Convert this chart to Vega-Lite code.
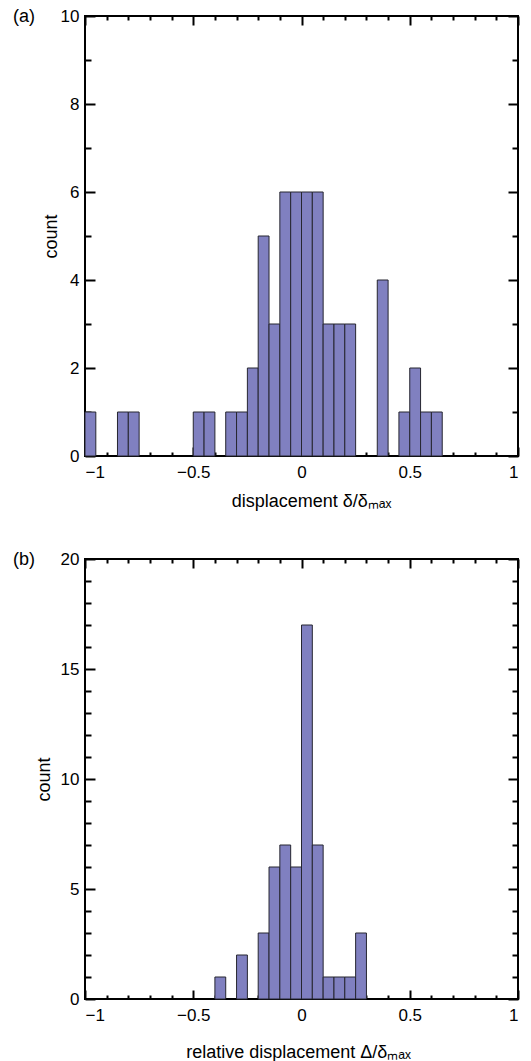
{
  "$schema": "https://vega.github.io/schema/vega-lite/v6.json",
  "background": "white",
  "padding": {"left": 12, "top": 6, "right": 5, "bottom": 0},
  "bounds": "flush",
  "spacing": 103,
  "config": {
    "view": {"stroke": "black", "strokeWidth": 2},
    "axis": {
      "labelFont": "Liberation Sans", "labelFontSize": 17, "labelColor": "black",
      "titleFont": "Liberation Sans", "titleFontSize": 18, "titleFontWeight": "normal", "titleColor": "black",
      "tickColor": "black", "tickWidth": 2, "domain": false, "grid": false
    },
    "title": {"font": "Liberation Sans", "fontSize": 18, "fontWeight": "normal", "color": "black"}
  },
  "datasets": {
    "a": [
      {"start": -1.0, "end": -0.95, "count": 1},
      {"start": -0.85, "end": -0.8, "count": 1},
      {"start": -0.8, "end": -0.75, "count": 1},
      {"start": -0.5, "end": -0.45, "count": 1},
      {"start": -0.45, "end": -0.4, "count": 1},
      {"start": -0.35, "end": -0.3, "count": 1},
      {"start": -0.3, "end": -0.25, "count": 1},
      {"start": -0.25, "end": -0.2, "count": 2},
      {"start": -0.2, "end": -0.15, "count": 5},
      {"start": -0.15, "end": -0.1, "count": 3},
      {"start": -0.1, "end": -0.05, "count": 6},
      {"start": -0.05, "end": 0.0, "count": 6},
      {"start": 0.0, "end": 0.05, "count": 6},
      {"start": 0.05, "end": 0.1, "count": 6},
      {"start": 0.1, "end": 0.15, "count": 3},
      {"start": 0.15, "end": 0.2, "count": 3},
      {"start": 0.2, "end": 0.25, "count": 3},
      {"start": 0.35, "end": 0.4, "count": 4},
      {"start": 0.45, "end": 0.5, "count": 1},
      {"start": 0.5, "end": 0.55, "count": 2},
      {"start": 0.55, "end": 0.6, "count": 1},
      {"start": 0.6, "end": 0.65, "count": 1}
    ],
    "b": [
      {"start": -0.4, "end": -0.35, "count": 1},
      {"start": -0.3, "end": -0.25, "count": 2},
      {"start": -0.2, "end": -0.15, "count": 3},
      {"start": -0.15, "end": -0.1, "count": 6},
      {"start": -0.1, "end": -0.05, "count": 7},
      {"start": -0.05, "end": 0.0, "count": 6},
      {"start": 0.0, "end": 0.05, "count": 17},
      {"start": 0.05, "end": 0.1, "count": 7},
      {"start": 0.1, "end": 0.15, "count": 1},
      {"start": 0.15, "end": 0.2, "count": 1},
      {"start": 0.2, "end": 0.25, "count": 1},
      {"start": 0.25, "end": 0.3, "count": 3}
    ]
  },
  "vconcat": [
    {
      "width": 433, "height": 440,
      "title": {"text": "(a)", "anchor": "start", "frame": "group", "dx": -72, "offset": -19},
      "data": {"name": "a"},
      "layer": [
        {
          "mark": {"type": "rect", "fill": "#8080c0", "stroke": "#262630", "strokeWidth": 1},
          "encoding": {
            "x": {"field": "start", "type": "quantitative", "scale": {"domain": [-1, 1], "nice": false, "zero": false},
                  "axis": {"orient": "bottom", "values": [-1, -0.5, 0, 0.5, 1], "format": "~g", "tickSize": -9, "labelPadding": 17, "titlePadding": 12, "titleX": 226, "title": "displacement δ/δₘₐₓ"}},
            "x2": {"field": "end"},
            "y": {"field": "count", "type": "quantitative", "scale": {"domain": [0, 10], "nice": false},
                  "axis": {"orient": "left", "values": [0, 2, 4, 6, 8, 10], "tickSize": -10, "labelPadding": 16, "titlePadding": 0, "title": "count"}},
            "y2": {"datum": 0}
          }
        },
        {
          "mark": {"type": "point", "opacity": 0},
          "encoding": {
            "x": {"field": "start", "type": "quantitative", "axis": {"orient": "bottom", "values": [-0.9, -0.8, -0.7, -0.6, -0.4, -0.3, -0.2, -0.1, 0.1, 0.2, 0.3, 0.4, 0.6, 0.7, 0.8, 0.9], "tickSize": -4, "labels": false, "title": null}},
            "y": {"field": "count", "type": "quantitative", "axis": {"orient": "left", "values": [1, 3, 5, 7, 9], "tickSize": -6, "labels": false, "title": null}}
          }
        },
        {
          "mark": {"type": "point", "opacity": 0},
          "encoding": {
            "x": {"field": "start", "type": "quantitative", "axis": {"orient": "top", "values": [-1, -0.5, 0, 0.5, 1], "tickSize": -9, "labels": false, "title": null}},
            "y": {"field": "count", "type": "quantitative", "axis": {"orient": "right", "values": [0, 2, 4, 6, 8, 10], "tickSize": -10, "labels": false, "title": null}}
          }
        },
        {
          "mark": {"type": "point", "opacity": 0},
          "encoding": {
            "x": {"field": "start", "type": "quantitative", "axis": {"orient": "top", "values": [-0.9, -0.8, -0.7, -0.6, -0.4, -0.3, -0.2, -0.1, 0.1, 0.2, 0.3, 0.4, 0.6, 0.7, 0.8, 0.9], "tickSize": -4, "labels": false, "title": null}},
            "y": {"field": "count", "type": "quantitative", "axis": {"orient": "right", "values": [1, 3, 5, 7, 9], "tickSize": -6, "labels": false, "title": null}}
          }
        }
      ],
      "resolve": {"axis": {"x": "independent", "y": "independent"}}
    },
    {
      "width": 433, "height": 440,
      "title": {"text": "(b)", "anchor": "start", "frame": "group", "dx": -72, "offset": -19},
      "data": {"name": "b"},
      "layer": [
        {
          "mark": {"type": "rect", "fill": "#8080c0", "stroke": "#262630", "strokeWidth": 1},
          "encoding": {
            "x": {"field": "start", "type": "quantitative", "scale": {"domain": [-1, 1], "nice": false, "zero": false},
                  "axis": {"orient": "bottom", "values": [-1, -0.5, 0, 0.5, 1], "format": "~g", "tickSize": -9, "labelPadding": 17, "titlePadding": 20, "titleX": 213, "title": "relative displacement Δ/δₘₐₓ"}},
            "x2": {"field": "end"},
            "y": {"field": "count", "type": "quantitative", "scale": {"domain": [0, 20], "nice": false},
                  "axis": {"orient": "left", "values": [0, 5, 10, 15, 20], "tickSize": -10, "labelPadding": 16, "titlePadding": 7, "title": "count"}},
            "y2": {"datum": 0}
          }
        },
        {
          "mark": {"type": "point", "opacity": 0},
          "encoding": {
            "x": {"field": "start", "type": "quantitative", "axis": {"orient": "bottom", "values": [-0.9, -0.8, -0.7, -0.6, -0.4, -0.3, -0.2, -0.1, 0.1, 0.2, 0.3, 0.4, 0.6, 0.7, 0.8, 0.9], "tickSize": -4, "labels": false, "title": null}},
            "y": {"field": "count", "type": "quantitative", "axis": {"orient": "left", "values": [1, 2, 3, 4, 6, 7, 8, 9, 11, 12, 13, 14, 16, 17, 18, 19], "tickSize": -6, "labels": false, "title": null}}
          }
        },
        {
          "mark": {"type": "point", "opacity": 0},
          "encoding": {
            "x": {"field": "start", "type": "quantitative", "axis": {"orient": "top", "values": [-1, -0.5, 0, 0.5, 1], "tickSize": -9, "labels": false, "title": null}},
            "y": {"field": "count", "type": "quantitative", "axis": {"orient": "right", "values": [0, 5, 10, 15, 20], "tickSize": -10, "labels": false, "title": null}}
          }
        },
        {
          "mark": {"type": "point", "opacity": 0},
          "encoding": {
            "x": {"field": "start", "type": "quantitative", "axis": {"orient": "top", "values": [-0.9, -0.8, -0.7, -0.6, -0.4, -0.3, -0.2, -0.1, 0.1, 0.2, 0.3, 0.4, 0.6, 0.7, 0.8, 0.9], "tickSize": -4, "labels": false, "title": null}},
            "y": {"field": "count", "type": "quantitative", "axis": {"orient": "right", "values": [1, 2, 3, 4, 6, 7, 8, 9, 11, 12, 13, 14, 16, 17, 18, 19], "tickSize": -6, "labels": false, "title": null}}
          }
        }
      ],
      "resolve": {"axis": {"x": "independent", "y": "independent"}}
    }
  ]
}
